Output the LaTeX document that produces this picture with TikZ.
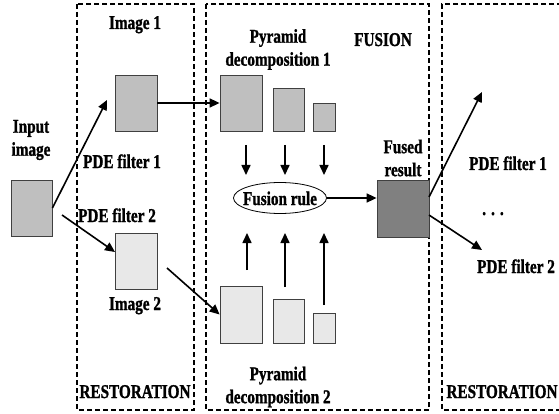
\documentclass[tikz,border=0pt]{standalone}
\usepackage{fontspec}
\setmainfont{Liberation Serif}[FakeStretch=0.78, FakeBold=1.2]
\usetikzlibrary{arrows.meta,shapes.geometric}

\begin{document}
\begin{tikzpicture}[x=1pt, y=-1pt, font=\fontsize{19.5}{23}\selectfont\bfseries,
  imgbox/.style={draw=black!75, line width=0.8pt, fill=gray!50, inner sep=0pt},
  lite/.style={imgbox, fill=gray!18},
  dark/.style={imgbox, fill=gray},
  region/.style={line width=1.8pt, dash pattern=on 5pt off 3pt},
  arr/.style={-{Triangle[length=10pt,width=9pt]}, line width=1.6pt},
  lbl/.style={inner sep=0pt, anchor=base, align=center}]
\useasboundingbox (0,0) rectangle (559,414);
% dashed regions
\draw[region] (77,4) rectangle (194,410);
\draw[region] (206,4) rectangle (429,410);
\draw[region] (562,4) -- (442,4) -- (442,410) -- (562,410);
% restoration: input and the two filtered images
\node[imgbox, minimum width=41pt, minimum height=56pt] (inp) at (31.5,208) {};
\node[imgbox, minimum width=42pt, minimum height=56pt] (img1) at (136,103) {};
\node[lite, minimum width=42pt, minimum height=56pt] (img2) at (136,261) {};
% pyramid levels
\node[imgbox, minimum width=42pt, minimum height=56pt] (p1a) at (241,103) {};
\node[imgbox, minimum width=31pt, minimum height=43pt] (p1b) at (288.5,109.5) {};
\node[imgbox, minimum width=22pt, minimum height=28pt] (p1c) at (324,117) {};
\node[lite, minimum width=42pt, minimum height=57pt] (p2a) at (241,314.5) {};
\node[lite, minimum width=31pt, minimum height=44pt] (p2b) at (288.5,321) {};
\node[lite, minimum width=22pt, minimum height=30pt] (p2c) at (324,328) {};
% fusion
\node[draw, ellipse, line width=0.8pt, minimum width=93pt, minimum height=31pt, inner sep=0pt] (rule) at (280,198) {};
\node[lbl] at (280,205) {Fusion rule};
\node[dark, minimum width=52pt, minimum height=57pt] (fused) at (403,208.5) {};
% labels
\node[lbl, anchor=center] (tin) at (31,140) {Input\\image};
\node[lbl] (t1) at (135,29) {Image 1};
\node[lbl] (f1) at (122,168) {PDE filter 1};
\node[lbl] (f2) at (117,222) {PDE filter 2};
\node[lbl] (t2) at (135,310) {Image 2};
\node[lbl, anchor=center] (tp1) at (278,49.5) {Pyramid\\decomposition 1};
\node[lbl, anchor=center] (tp2) at (278,387) {Pyramid\\decomposition 2};
\node[lbl] (tfu) at (383,46) {FUSION};
\node[lbl, anchor=center] (tres) at (403,158) {Fused\\result};
\node[lbl] (g1) at (508,170) {PDE filter 1};
\node[lbl] (dots) at (493,215) {. . .};
\node[lbl] (g2) at (516,273) {PDE filter 2};
\node[lbl] (r1) at (135,398) {RESTORATION};
\node[lbl] (r2) at (502,398) {RESTORATION};
% free arrow ends
\coordinate (e1) at (107,100);
\coordinate (s2) at (62,215);
\coordinate (e2) at (115,252);
\coordinate (s4) at (167,268);
\coordinate (s8) at (429,197);
\coordinate (e8) at (482,92);
\coordinate (s9) at (429,215);
\coordinate (e9) at (482,250);
% arrows
\draw[arr] (inp.east) -- (e1);
\draw[arr] (s2) -- (e2);
\draw[arr] (img1.east) -- (p1a.west);
\draw[arr] (s4) -- (p2a.west);
\foreach \x in {246,285,324}
  \draw[arr] (\x,145) -- (\x,175);
\foreach \x/\y in {247/270,285/287,324/305}
  \draw[arr] (\x,\y) -- (\x,233);
\draw[arr] (rule.east) -- (rule.east -| fused.west);
\draw[arr] (s8) -- (e8);
\draw[arr] (s9) -- (e9);
\end{tikzpicture}
\end{document}
